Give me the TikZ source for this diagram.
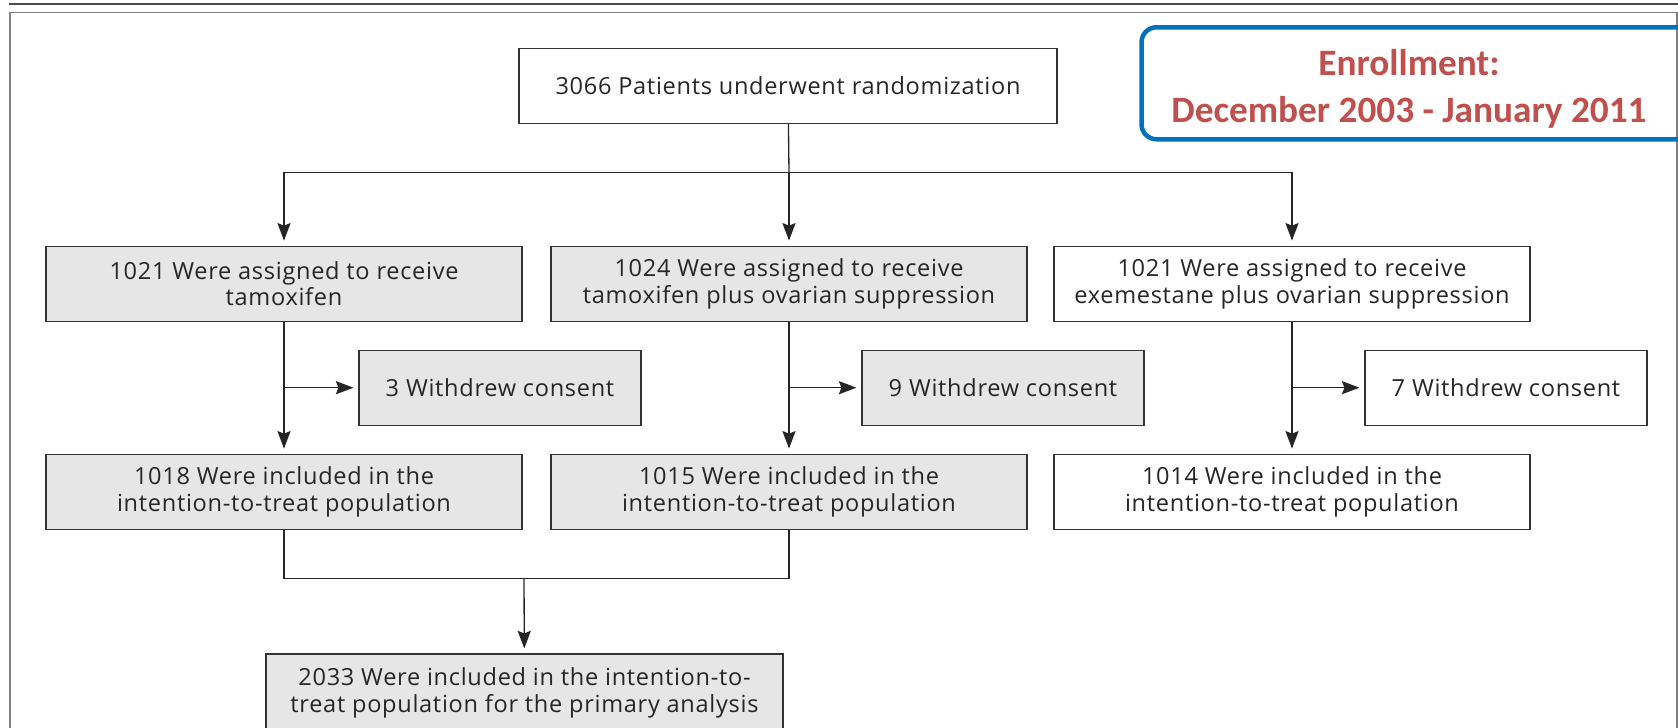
\documentclass[tikz,border=0pt]{standalone}
\usepackage{fontspec}
\usepackage{tikz}
\usetikzlibrary{arrows.meta}
\setmainfont{Open Sans}[LetterSpace=3]
\newfontfamily\enrollfont{Carlito}
\definecolor{enrollblue}{RGB}{0,112,192}
\definecolor{enrollred}{RGB}{192,80,77}
\definecolor{boxgray}{RGB}{230,230,230}

\begin{document}
\begin{tikzpicture}[font=\fontsize{13.4}{15.2}\selectfont, >={Stealth[length=10pt,width=7.5pt,inset=1.5pt]},
  box/.style={draw=black!80, line width=0.75pt, align=center, minimum height=15mm, inner sep=2pt, text=black!85},
  arm/.style={box, minimum width=95.2mm},
  quit/.style={box, minimum width=56.4mm},
  flow/.style={draw=black!85, line width=0.75pt},
  arrow/.style={flow, ->, shorten >=2.8pt}]
  \useasboundingbox (0,0) rectangle (33.56,-14.56);
  \clip (0,0) rectangle (33.56,-14.56);
  % page rule and frame
  \draw[black!70, line width=1.1pt] (0.18,-0.08) -- (33.6,-0.08);
  \draw[black!50, line width=0.7pt] (0.2,-14.8) -- (0.2,-0.254) -- (33.54,-0.254) -- (33.54,-14.8);

  \node[box, minimum width=107.6mm] (rand) at (15.76,-1.716) {3066 Patients underwent randomization};

  \node[arm, fill=boxgray] (armA) at (5.68,-5.674) {1021 Were assigned to receive\\ tamoxifen};
  \node[arm, fill=boxgray] (armB) at (15.78,-5.674) {1024 Were assigned to receive\\ tamoxifen plus ovarian suppression};
  \node[arm, fill=white] (armC) at (25.84,-5.674) {1021 Were assigned to receive\\ exemestane plus ovarian suppression};

  \node[quit, fill=boxgray] (wdA) at (10.0,-7.754) {3 Withdrew consent};
  \node[quit, fill=boxgray] (wdB) at (20.06,-7.754) {9 Withdrew consent};
  \node[quit, fill=white] (wdC) at (30.12,-7.754) {7 Withdrew consent};

  \node[arm, fill=boxgray] (ittA) at (5.68,-9.834) {1018 Were included in the\\ intention-to-treat population};
  \node[arm, fill=boxgray] (ittB) at (15.78,-9.834) {1015 Were included in the\\ intention-to-treat population};
  \node[arm, fill=white] (ittC) at (25.84,-9.834) {1014 Were included in the\\ intention-to-treat population};

  \node[box, fill=boxgray, minimum width=103.4mm, minimum height=15.6mm, anchor=north] (itt) at (10.49,-13.066)
    {2033 Were included in the intention-to-\\ treat population for the primary analysis};

  % randomization split
  \coordinate (split) at (15.78,-3.454);
  \draw[flow] (rand) -- (split);
  \draw[arrow] (split) -| (armA);
  \draw[arrow] (split) -- (armB);
  \draw[arrow] (split) -| (armC);

  % arms down to itt, withdrawals off to the side
  \foreach \k in {A,B,C} {
    \draw[arrow] (arm\k) -- (itt\k);
    \draw[arrow] (arm\k |- wd\k) -- (wd\k);
  }

  % pooled analysis
  \coordinate (merge) at (10.48,-11.574);
  \draw[flow] (ittA) |- (merge);
  \draw[flow] (ittB) |- (merge);
  \draw[arrow] (merge) -- (itt);

  % enrollment period
  \draw[enrollblue, line width=2.55pt, rounded corners=3mm] (22.83,-0.546) rectangle (34.4,-2.786);
  \node[font=\enrollfont\bfseries\fontsize{21.2}{26.6}\selectfont, text=enrollred, align=center] (enroll) at (28.18,-1.78)
    {Enrollment:\\ December 2003 - January 2011};
\end{tikzpicture}
\end{document}
